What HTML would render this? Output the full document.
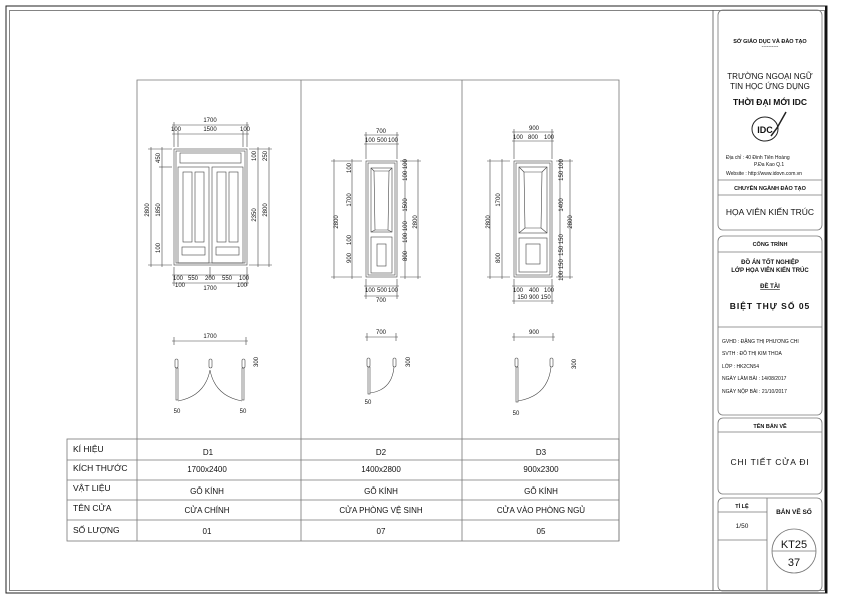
<!DOCTYPE html>
<html><head><meta charset="utf-8"><style>
html,body{margin:0;padding:0;background:#fff}
svg{display:block}
text{font-family:"Liberation Sans","DejaVu Sans",sans-serif;fill:#111}
.d{font-size:6px}
</style></head><body>
<svg width="850" height="602" viewBox="0 0 850 602" xmlns="http://www.w3.org/2000/svg">
<!-- frames -->
<rect x="6" y="6" width="821" height="587" fill="none" stroke="#222" stroke-width="1"/>
<rect x="9.5" y="10.5" width="815" height="580" fill="none" stroke="#666" stroke-width="0.8"/>
<line x1="826" y1="6" x2="826" y2="593" stroke="#111" stroke-width="2"/>
<line x1="713" y1="10" x2="713" y2="591" stroke="#555" stroke-width="0.8"/>

<!-- drawing frame -->
<g stroke="#777" stroke-width="0.8" fill="none">
<polyline points="137,541 137,80 619,80 619,541"/>
<line x1="301" y1="80" x2="301" y2="541"/>
<line x1="462" y1="80" x2="462" y2="541"/>
<rect x="67" y="439" width="552" height="102"/>
<line x1="67" y1="460" x2="619" y2="460"/>
<line x1="67" y1="480" x2="619" y2="480"/>
<line x1="67" y1="500" x2="619" y2="500"/>
<line x1="67" y1="520" x2="619" y2="520"/>
</g>
<g font-size="8.5">
<text x="73" y="452">KÍ HIỆU</text><text x="73" y="471">KÍCH THƯỚC</text><text x="73" y="491">VẬT LIỆU</text><text x="73" y="511">TÊN CỬA</text><text x="73" y="533">SỐ LƯỢNG</text>
</g>
<g font-size="8" text-anchor="middle">
<text x="208" y="455">D1</text><text x="381" y="455">D2</text><text x="541" y="455">D3</text>
<text x="207" y="472">1700x2400</text><text x="381" y="472">1400x2800</text><text x="541" y="472">900x2300</text>
<text x="207" y="494">GỖ KÍNH</text><text x="381" y="494">GỖ KÍNH</text><text x="541" y="494">GỖ KÍNH</text>
<text x="207" y="513">CỬA CHÍNH</text><text x="381" y="513">CỬA PHÒNG VỆ SINH</text><text x="541" y="513">CỬA VÀO PHÒNG NGỦ</text>
<text x="207" y="534">01</text><text x="381" y="534">07</text><text x="541" y="534">05</text>
</g>

<!-- D1 elevation -->
<g stroke="#444" stroke-width="0.6" fill="none">
<rect x="174" y="149" width="73" height="116"/>
<rect x="176" y="151" width="69" height="112"/>
<rect x="180" y="153" width="61" height="10"/>
<rect x="178" y="167" width="31" height="96"/><rect x="212" y="167" width="31" height="96"/>
<rect x="183" y="172" width="9" height="70"/><rect x="195" y="172" width="9" height="70"/>
<rect x="217" y="172" width="9" height="70"/><rect x="229" y="172" width="9" height="70"/>
<rect x="182" y="247" width="23" height="8"/><rect x="216" y="247" width="23" height="8"/>
<!-- dims -->
<line x1="172" y1="125" x2="249" y2="125"/><line x1="172" y1="134" x2="249" y2="134"/>
<line x1="174" y1="122" x2="174" y2="147"/><line x1="178" y1="131" x2="178" y2="147"/><line x1="243" y1="131" x2="243" y2="147"/><line x1="247" y1="122" x2="247" y2="147"/>
<line x1="172" y1="283" x2="249" y2="283"/><line x1="172" y1="275" x2="249" y2="275"/>
<line x1="174" y1="267" x2="174" y2="286"/><line x1="247" y1="267" x2="247" y2="286"/><line x1="210" y1="267" x2="210" y2="278"/>
<line x1="151" y1="147" x2="151" y2="267"/><line x1="162" y1="147" x2="162" y2="267"/>
<line x1="148" y1="149" x2="172" y2="149"/><line x1="148" y1="265" x2="172" y2="265"/><line x1="159" y1="167" x2="172" y2="167"/>
<line x1="258" y1="147" x2="258" y2="267"/><line x1="269" y1="147" x2="269" y2="267"/>
<line x1="249" y1="149" x2="272" y2="149"/><line x1="249" y1="265" x2="272" y2="265"/>
</g>
<g class="d" text-anchor="middle">
<text x="210" y="122">1700</text><text x="176" y="131">100</text><text x="210" y="131">1500</text><text x="245" y="131">100</text>
<text x="178" y="280">100</text><text x="193" y="280">550</text><text x="210" y="280">200</text><text x="227" y="280">550</text><text x="244" y="280">100</text>
<text x="210" y="290">1700</text><text x="180" y="287">100</text><text x="242" y="287">100</text>
<text transform="translate(149,210) rotate(-90)">2800</text><text transform="translate(160,210) rotate(-90)">1850</text><text transform="translate(160,158) rotate(-90)">450</text>
<text transform="translate(160,248) rotate(-90)">100</text>
<text transform="translate(256,215) rotate(-90)">2350</text><text transform="translate(267,210) rotate(-90)">2800</text><text transform="translate(267,156) rotate(-90)">250</text><text transform="translate(256,156) rotate(-90)">100</text>
</g>

<!-- D2 elevation -->
<g stroke="#444" stroke-width="0.6" fill="none">
<rect x="366" y="161" width="31" height="116"/><rect x="368" y="163" width="27" height="112"/>
<rect x="371" y="168" width="21" height="64"/><polygon points="374,171 389,171 388,230 375,230"/>
<line x1="371" y1="168" x2="374" y2="171"/><line x1="392" y1="168" x2="389" y2="171"/><line x1="371" y1="232" x2="375" y2="230"/><line x1="392" y1="232" x2="388" y2="230"/>
<rect x="371" y="237" width="21" height="36"/><rect x="377" y="244" width="9" height="22"/>
<line x1="364" y1="135" x2="399" y2="135"/><line x1="364" y1="144" x2="399" y2="144"/>
<line x1="366" y1="132" x2="366" y2="159"/><line x1="397" y1="132" x2="397" y2="159"/>
<line x1="364" y1="286" x2="399" y2="286"/><line x1="364" y1="296" x2="399" y2="296"/>
<line x1="366" y1="279" x2="366" y2="299"/><line x1="397" y1="279" x2="397" y2="299"/>
<line x1="334" y1="159" x2="334" y2="279"/><line x1="352" y1="159" x2="352" y2="279"/>
<line x1="331" y1="161" x2="362" y2="161"/><line x1="331" y1="277" x2="362" y2="277"/>
<line x1="405" y1="159" x2="405" y2="279"/><line x1="418" y1="159" x2="418" y2="279"/>
<line x1="400" y1="161" x2="421" y2="161"/><line x1="400" y1="277" x2="421" y2="277"/>
</g>
<g class="d" text-anchor="middle">
<text x="381" y="133">700</text><text x="370" y="142">100</text><text x="382" y="142">500</text><text x="393" y="142">100</text>
<text x="370" y="292">100</text><text x="382" y="292">500</text><text x="393" y="292">100</text><text x="381" y="302">700</text>
<text transform="translate(338,222) rotate(-90)">2800</text><text transform="translate(351,200) rotate(-90)">1700</text><text transform="translate(351,258) rotate(-90)">900</text><text transform="translate(351,168) rotate(-90)">100</text><text transform="translate(351,240) rotate(-90)">100</text>
<text transform="translate(407,205) rotate(-90)">1500</text><text transform="translate(407,256) rotate(-90)">800</text><text transform="translate(407,170) rotate(-90)">100 100</text><text transform="translate(407,232) rotate(-90)">100 100</text>
<text transform="translate(417,222) rotate(-90)">2800</text>
</g>

<!-- D3 elevation -->
<g stroke="#444" stroke-width="0.6" fill="none">
<rect x="514" y="161" width="38" height="116"/><rect x="516" y="163" width="34" height="112"/>
<rect x="519" y="167" width="28" height="66"/><polygon points="524,172 542,172 541,228 525,228"/>
<line x1="519" y1="167" x2="524" y2="172"/><line x1="547" y1="167" x2="542" y2="172"/><line x1="519" y1="233" x2="525" y2="228"/><line x1="547" y1="233" x2="541" y2="228"/>
<rect x="519" y="238" width="28" height="34"/><rect x="526" y="244" width="14" height="20"/>
<line x1="512" y1="132" x2="554" y2="132"/><line x1="512" y1="141" x2="554" y2="141"/>
<line x1="514" y1="129" x2="514" y2="159"/><line x1="552" y1="129" x2="552" y2="159"/>
<line x1="512" y1="286" x2="554" y2="286"/><line x1="512" y1="301" x2="554" y2="301"/>
<line x1="514" y1="279" x2="514" y2="304"/><line x1="552" y1="279" x2="552" y2="304"/>
<line x1="490" y1="159" x2="490" y2="279"/><line x1="502" y1="159" x2="502" y2="279"/>
<line x1="487" y1="161" x2="510" y2="161"/><line x1="487" y1="277" x2="510" y2="277"/>
<line x1="560" y1="159" x2="560" y2="279"/><line x1="570" y1="159" x2="570" y2="279"/>
<line x1="556" y1="161" x2="573" y2="161"/><line x1="556" y1="277" x2="573" y2="277"/>
</g>
<g class="d" text-anchor="middle">
<text x="534" y="130">900</text><text x="518" y="139">100</text><text x="533" y="139">800</text><text x="549" y="139">100</text>
<text x="518" y="292">100</text><text x="534" y="292">400</text><text x="549" y="292">100</text><text x="534" y="299">150 900 150</text>
<text transform="translate(490,222) rotate(-90)">2800</text><text transform="translate(500,200) rotate(-90)">1700</text><text transform="translate(500,258) rotate(-90)">800</text>
<text transform="translate(563,205) rotate(-90)">1400</text><text transform="translate(563,170) rotate(-90)">150 100</text><text transform="translate(563,245) rotate(-90)">150 150</text><text transform="translate(563,270) rotate(-90)">100 150</text>
<text transform="translate(572,222) rotate(-90)">2800</text>
</g>

<!-- plans -->
<g stroke="#444" stroke-width="0.6" fill="none">
<line x1="172" y1="341" x2="248" y2="341"/><line x1="174" y1="337" x2="174" y2="345"/><line x1="246" y1="337" x2="246" y2="345"/>
<rect x="175" y="359" width="3" height="9" rx="1.5"/><rect x="209" y="359" width="3" height="9" rx="1.5"/><rect x="242" y="359" width="3" height="9" rx="1.5"/>
<rect x="176" y="368" width="2" height="32"/><rect x="242" y="368" width="2" height="32"/>
<path d="M178,401 Q205,396 210,370 Q215,396 242,401"/>
<line x1="365" y1="337" x2="398" y2="337"/><line x1="367" y1="333" x2="367" y2="341"/><line x1="396" y1="333" x2="396" y2="341"/>
<rect x="367" y="358" width="3" height="9" rx="1.5"/><rect x="393" y="358" width="3" height="9" rx="1.5"/>
<rect x="368" y="367" width="2" height="27"/><path d="M370,393 Q392,390 394,367"/>
<line x1="512" y1="337" x2="555" y2="337"/><line x1="514" y1="333" x2="514" y2="341"/><line x1="553" y1="333" x2="553" y2="341"/>
<rect x="515" y="358" width="3" height="9" rx="1.5"/><rect x="550" y="358" width="3" height="9" rx="1.5"/>
<rect x="516" y="367" width="2" height="35"/><path d="M518,401 Q548,396 551,367"/>
</g>
<g class="d" text-anchor="middle">
<text x="210" y="338">1700</text><text x="381" y="334">700</text><text x="534" y="334">900</text>
<text x="177" y="413">50</text><text x="243" y="413">50</text><text x="368" y="404">50</text><text x="516" y="415">50</text>
<text transform="translate(258,362) rotate(-90)">300</text><text transform="translate(410,362) rotate(-90)">300</text><text transform="translate(576,364) rotate(-90)">300</text>
</g>

<!-- title block -->
<g stroke="#777" stroke-width="0.8" fill="none">
<rect x="718" y="10" width="104" height="220" rx="5"/>
<line x1="718" y1="180" x2="822" y2="180"/><line x1="718" y1="195" x2="822" y2="195"/>
<rect x="718" y="236" width="104" height="179" rx="5"/>
<line x1="718" y1="252" x2="822" y2="252"/><line x1="718" y1="327" x2="822" y2="327"/>
<rect x="718" y="418" width="104" height="76" rx="5"/><line x1="718" y1="432" x2="822" y2="432"/>
<rect x="718" y="498" width="104" height="93" rx="5"/>
<line x1="767" y1="498" x2="767" y2="591"/><line x1="718" y1="512" x2="767" y2="512"/><line x1="718" y1="540" x2="767" y2="540"/>
<circle cx="794" cy="551" r="22"/><line x1="772" y1="551" x2="816" y2="551"/>
</g>
<g text-anchor="middle">
<text x="770" y="43" font-size="5.5" font-weight="bold">SỞ GIÁO DỤC VÀ ĐÀO TẠO</text>
<text x="770" y="48" font-size="5">----------</text>
<text x="770" y="79" font-size="8">TRƯỜNG NGOẠI NGỮ</text>
<text x="770" y="89" font-size="8">TIN HỌC ỨNG DỤNG</text>
<text x="770" y="105" font-size="8.5" font-weight="bold">THỜI ĐẠI MỚI IDC</text>
<text x="770" y="190" font-size="5.5" font-weight="bold">CHUYÊN NGÀNH ĐÀO TẠO</text>
<text x="770" y="215" font-size="8.5">HỌA VIÊN KIẾN TRÚC</text>
<text x="770" y="246" font-size="5.5" font-weight="bold">CÔNG TRÌNH</text>
<text x="770" y="264" font-size="6" font-weight="bold">ĐỒ ÁN TỐT NGHIỆP</text>
<text x="770" y="272" font-size="6" font-weight="bold">LỚP HỌA VIÊN KIẾN TRÚC</text>
<text x="770" y="288" font-size="6" font-weight="bold" text-decoration="underline">ĐỀ TÀI</text>
<text x="770" y="309" font-size="8.5" font-weight="bold" letter-spacing="1">BIỆT THỰ SỐ 05</text>
<text x="770" y="428" font-size="5.5" font-weight="bold">TÊN BẢN VẼ</text>
<text x="770" y="465" font-size="8.5" letter-spacing="0.8">CHI TIẾT CỬA ĐI</text>
<text x="742" y="508" font-size="5.5" font-weight="bold">TỈ LỆ</text>
<text x="742" y="528" font-size="6.5">1/50</text>
<text x="794" y="514" font-size="6.5" font-weight="bold">BẢN VẼ SỐ</text>
<text x="794" y="548" font-size="11">KT25</text>
<text x="794" y="566" font-size="11">37</text>
</g>
<!-- logo -->
<g>
<ellipse cx="765" cy="129" rx="13" ry="12" fill="none" stroke="#222" stroke-width="1"/>
<text x="765" y="133" font-size="9" font-weight="bold" text-anchor="middle" font-family="Liberation Serif">IDC</text>
<path d="M771,136 L777,128 L786,112" stroke="#222" stroke-width="1.5" fill="none"/>
</g>
<g font-size="5">
<text x="726" y="159">Địa chỉ  : 40 Đinh Tiên Hoàng</text>
<text x="754" y="166">P.Đa Kao   Q.1</text>
<text x="726" y="175">Website : http://www.idovn.com.vn</text>
<text x="722" y="343">GVHD  : ĐẶNG THỊ PHƯƠNG CHI</text>
<text x="722" y="355">SVTH   : ĐỖ THỊ KIM THOA</text>
<text x="722" y="368">LỚP     : HK2CN54</text>
<text x="722" y="380">NGÀY LÀM BÀI   : 14/08/2017</text>
<text x="722" y="393">NGÀY NỘP BÀI   : 21/10/2017</text>
</g>
</svg>
</body></html>
